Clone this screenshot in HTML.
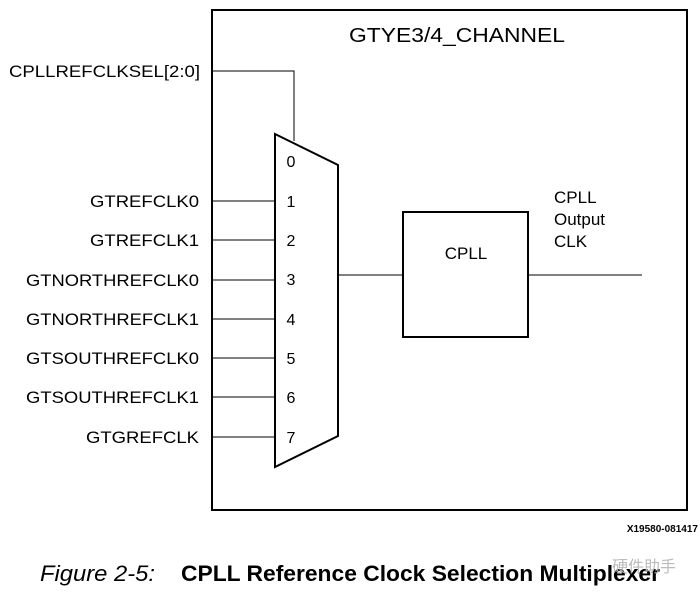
<!DOCTYPE html>
<html><head><style>
body{margin:0;background:#fff;}
svg{display:block;font-family:"Liberation Sans",sans-serif;}
</style></head><body>
<svg width="700" height="594" xmlns="http://www.w3.org/2000/svg">
<rect x="212" y="10" width="475" height="500" fill="none" stroke="#000" stroke-width="2"/>
<text x="349" y="42" font-size="20" textLength="216" lengthAdjust="spacingAndGlyphs">GTYE3/4_CHANNEL</text>
<polyline points="212,71 294,71 294,141" fill="none" stroke="#000" stroke-width="1"/>
<text x="9" y="77" font-size="17" textLength="191" lengthAdjust="spacingAndGlyphs">CPLLREFCLKSEL[2:0]</text>
<polygon points="275,134 338,165 338,436 275,467" fill="#fff" stroke="#000" stroke-width="2"/>
<g font-size="16" text-anchor="middle" fill="#000">
<text x="291" y="167">0</text>
<text x="291" y="207">1</text>
<text x="291" y="246">2</text>
<text x="291" y="285">3</text>
<text x="291" y="325">4</text>
<text x="291" y="364">5</text>
<text x="291" y="403">6</text>
<text x="291" y="443">7</text>
</g>
<g stroke="#000" stroke-width="1">
<line x1="212" y1="201" x2="275" y2="201"/>
<line x1="212" y1="240" x2="275" y2="240"/>
<line x1="212" y1="280" x2="275" y2="280"/>
<line x1="212" y1="319" x2="275" y2="319"/>
<line x1="212" y1="358" x2="275" y2="358"/>
<line x1="212" y1="397" x2="275" y2="397"/>
<line x1="212" y1="437" x2="275" y2="437"/>
<line x1="338" y1="275" x2="403" y2="275"/>
<line x1="528" y1="275" x2="642" y2="275"/>
</g>
<g font-size="17">
<text x="90" y="207" textLength="109" lengthAdjust="spacingAndGlyphs">GTREFCLK0</text>
<text x="90" y="246" textLength="109" lengthAdjust="spacingAndGlyphs">GTREFCLK1</text>
<text x="26" y="286" textLength="173" lengthAdjust="spacingAndGlyphs">GTNORTHREFCLK0</text>
<text x="26" y="325" textLength="173" lengthAdjust="spacingAndGlyphs">GTNORTHREFCLK1</text>
<text x="26" y="364" textLength="173" lengthAdjust="spacingAndGlyphs">GTSOUTHREFCLK0</text>
<text x="26" y="403" textLength="173" lengthAdjust="spacingAndGlyphs">GTSOUTHREFCLK1</text>
<text x="86" y="443" textLength="113" lengthAdjust="spacingAndGlyphs">GTGREFCLK</text>
</g>
<rect x="403" y="212" width="125" height="125" fill="none" stroke="#000" stroke-width="2"/>
<text x="466" y="259" font-size="17" text-anchor="middle">CPLL</text>
<text x="554" y="203" font-size="17">CPLL</text>
<text x="554" y="225" font-size="17">Output</text>
<text x="554" y="247" font-size="17">CLK</text>
<text x="698" y="532" font-size="10" text-anchor="end" font-weight="bold">X19580-081417</text>
<text x="40" y="581" font-size="22" font-style="italic" textLength="115" lengthAdjust="spacingAndGlyphs">Figure 2-5:</text>
<text x="181" y="581" font-size="22" font-weight="bold" textLength="479" lengthAdjust="spacingAndGlyphs">CPLL Reference Clock Selection Multiplexer</text>
<text x="612" y="572" font-size="16" fill="#bbb" font-family="'Liberation Sans','Noto Sans CJK SC',sans-serif">硬件助手</text>
</svg>
</body></html>
